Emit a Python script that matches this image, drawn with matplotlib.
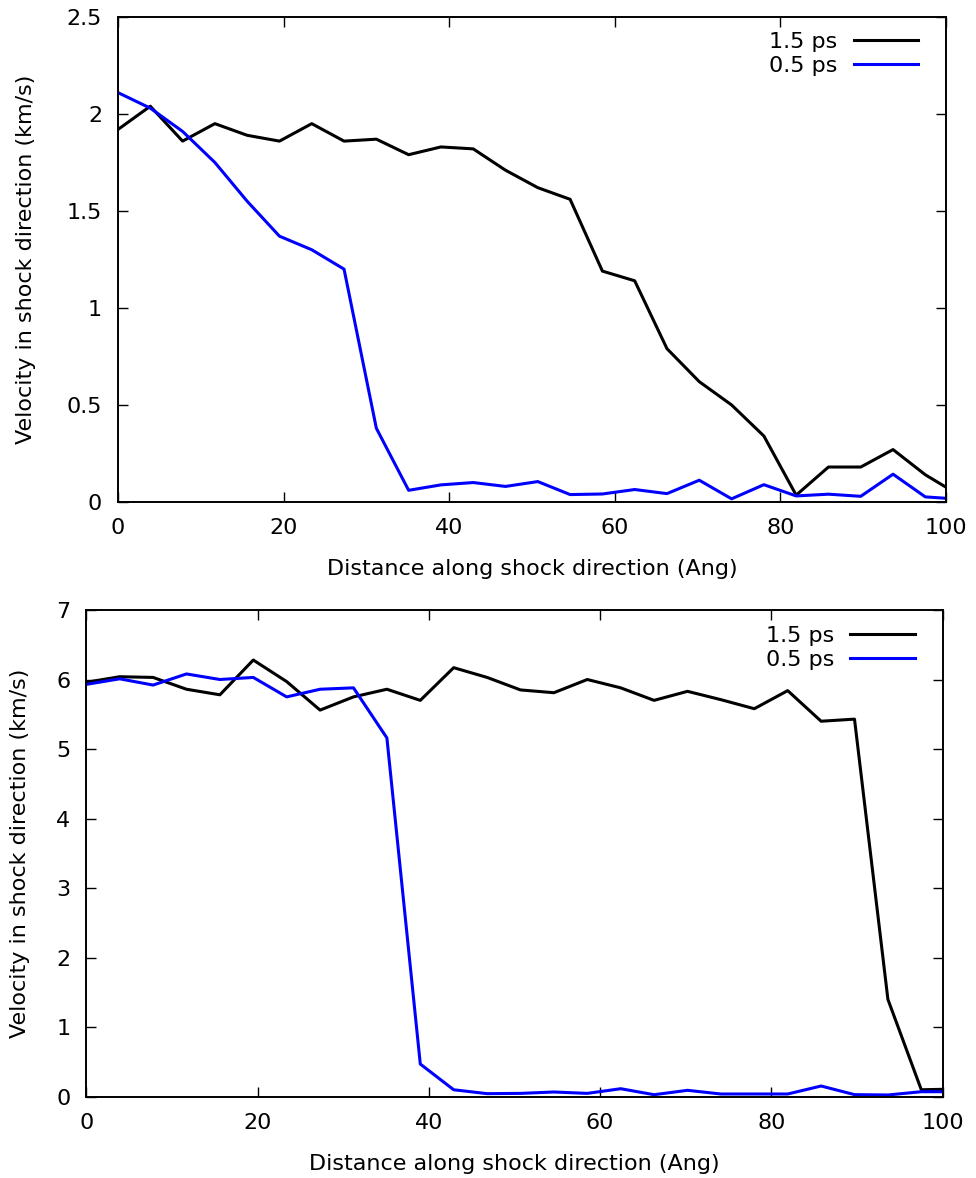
import matplotlib
matplotlib.use("Agg")
import matplotlib.pyplot as plt

# distance along shock direction (Ang), sampled every ~3.9 Ang
distance = [0.0, 3.9, 7.8, 11.7, 15.6, 19.5, 23.4, 27.3, 31.2, 35.1,
            39.0, 42.9, 46.8, 50.7, 54.6, 58.5, 62.4, 66.3, 70.2, 74.1,
            78.0, 81.9, 85.8, 89.7, 93.6, 97.5, 101.4]

# top panel: velocity (km/s)
top_15ps = [1.92, 2.04, 1.86, 1.95, 1.89, 1.86, 1.95, 1.86, 1.87, 1.79,
            1.83, 1.82, 1.71, 1.62, 1.56, 1.19, 1.14, 0.79, 0.62, 0.50,
            0.34, 0.035, 0.18, 0.18, 0.27, 0.14, 0.04]
top_05ps = [2.11, 2.03, 1.91, 1.75, 1.55, 1.37, 1.30, 1.20, 0.38, 0.06,
            0.088, 0.10, 0.08, 0.105, 0.038, 0.041, 0.064, 0.043, 0.112, 0.016,
            0.089, 0.031, 0.040, 0.029, 0.143, 0.026, 0.015]

# bottom panel: velocity (km/s)
bot_15ps = [5.96, 6.04, 6.03, 5.86, 5.78, 6.28, 5.97, 5.56, 5.75, 5.86,
            5.70, 6.17, 6.03, 5.85, 5.81, 6.00, 5.88, 5.70, 5.83, 5.71,
            5.58, 5.84, 5.40, 5.43, 1.40, 0.10, 0.11]
bot_05ps = [5.93, 6.01, 5.92, 6.08, 6.00, 6.03, 5.75, 5.86, 5.88, 5.16,
            0.47, 0.10, 0.044, 0.048, 0.068, 0.048, 0.115, 0.029, 0.092, 0.039,
            0.039, 0.039, 0.154, 0.030, 0.025, 0.072, 0.072]

labels = ["1.5 ps", "0.5 ps"]
colors = ["black", "#0000ff"]

plt.rcParams["font.family"] = "DejaVu Sans"
plt.rcParams["font.size"] = 16

fig = plt.figure(figsize=(9.76, 11.78), dpi=100)
ax_top = fig.add_axes([0.1209, 0.5739, 0.8484, 0.4117])
ax_bot = fig.add_axes([0.0884, 0.0690, 0.8775, 0.4132])


def style_panel(ax, ymax, yticks, yticklabels, ylabelpad, legend_lift):
    ax.set_xlim(0, 100)
    ax.set_ylim(0, ymax)
    ax.set_xticks([0, 20, 40, 60, 80, 100])
    ax.set_yticks(yticks)
    ax.set_yticklabels(yticklabels)
    ax.tick_params(direction="in", length=7, width=1, top=True, right=True,
                   labelsize=16)
    ax.tick_params(axis="x", pad=11.5)
    ax.tick_params(axis="y", pad=11.5)
    for sp in ax.spines.values():
        sp.set_linewidth(1.4)
    ax.set_xlabel("Distance along shock direction (Ang)", fontsize=16, labelpad=15)
    ax.set_ylabel("Velocity in shock direction (km/s)", fontsize=16,
                  labelpad=ylabelpad)
    ax.legend(loc="upper right", bbox_to_anchor=(1, 1 + legend_lift),
              frameon=False, markerfirst=False,
              handlelength=2.9, handletextpad=0.72, labelspacing=0.18,
              borderaxespad=0.86, fontsize=16)


ax_top.plot(distance, top_15ps, color=colors[0], lw=2.2, label=labels[0])
ax_top.plot(distance, top_05ps, color=colors[1], lw=2.2, label=labels[1])
style_panel(ax_top, 2.5, [0, 0.5, 1, 1.5, 2, 2.5],
            ["0", "0.5", "1", "1.5", "2", "2.5"], 22, 0.027)

ax_bot.plot(distance, bot_15ps, color=colors[0], lw=2.2, label=labels[0])
ax_bot.plot(distance, bot_05ps, color=colors[1], lw=2.2, label=labels[1])
style_panel(ax_bot, 7, [0, 1, 2, 3, 4, 5, 6, 7],
            ["0", "1", "2", "3", "4", "5", "6", "7"], 18.5, 0.025)

fig.savefig("out.png", dpi=100)
